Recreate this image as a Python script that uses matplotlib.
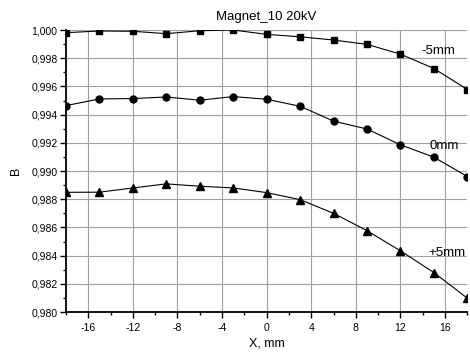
import matplotlib.pyplot as plt
from matplotlib.ticker import MultipleLocator, FuncFormatter

plt.rcParams['font.family'] = ['Liberation Sans', 'DejaVu Sans']
plt.rcParams['axes.unicode_minus'] = False

# Field profile along X for three offsets
x = [-18, -15, -12, -9, -6, -3, 0, 3, 6, 9, 12, 15, 18]
b_minus5 = [0.99981, 0.99993, 0.99991, 0.99974, 0.99995, 1.00000, 0.99969,
            0.99952, 0.99929, 0.99898, 0.99829, 0.99727, 0.99578]
b_zero = [0.99464, 0.99511, 0.99514, 0.99525, 0.99502, 0.99528, 0.99509,
          0.99459, 0.99354, 0.99298, 0.99186, 0.99098, 0.98961]
b_plus5 = [0.98849, 0.98850, 0.98880, 0.98909, 0.98892, 0.98880, 0.98847,
           0.98797, 0.98700, 0.98577, 0.98434, 0.98280, 0.98098]

fig = plt.figure(figsize=(4.7, 3.53), dpi=100)
ax = fig.add_axes([0.1404, 0.116, 0.854, 0.799])

ax.plot(x, b_minus5, marker='s', ms=4.5, color='black', lw=0.8)
ax.plot(x, b_zero, marker='o', ms=5, color='black', lw=0.8)
ax.plot(x, b_plus5, marker='^', ms=5.5, color='black', lw=0.8)

ax.text(13.9, 0.99851, '-5mm', fontsize=9.5, va='center')
ax.text(14.6, 0.99174, '0mm', fontsize=9.5, va='center')
ax.text(14.5, 0.98422, '+5mm', fontsize=9.5, va='center')

ax.set_xlim(-18, 18)
ax.set_ylim(0.980, 1.000)
ax.xaxis.set_major_locator(MultipleLocator(4))
ax.xaxis.set_minor_locator(MultipleLocator(2))
ax.yaxis.set_major_locator(MultipleLocator(0.002))
ax.yaxis.set_minor_locator(MultipleLocator(0.001))
ax.yaxis.set_major_formatter(FuncFormatter(lambda v, p: f'{v:.3f}'.replace('.', ',')))

ax.grid(True, which='major', color='#a0a0a0', lw=0.8)
ax.set_axisbelow(True)
for side in ['top', 'right']:
    ax.spines[side].set_visible(False)
for side in ['left', 'bottom']:
    ax.spines[side].set_linewidth(1.3)
ax.tick_params(which='major', length=4, width=1, labelsize=7.5, pad=2)
ax.tick_params(axis='x', which='major', pad=4)
ax.tick_params(which='minor', length=2.5, width=1)

ax.set_title('Magnet_10 20kV', fontsize=9.5, pad=7)
ax.set_xlabel('X, mm', fontsize=9, labelpad=3)
ax.set_ylabel('B', fontsize=9, labelpad=7)

fig.savefig('out.png', dpi=100)
